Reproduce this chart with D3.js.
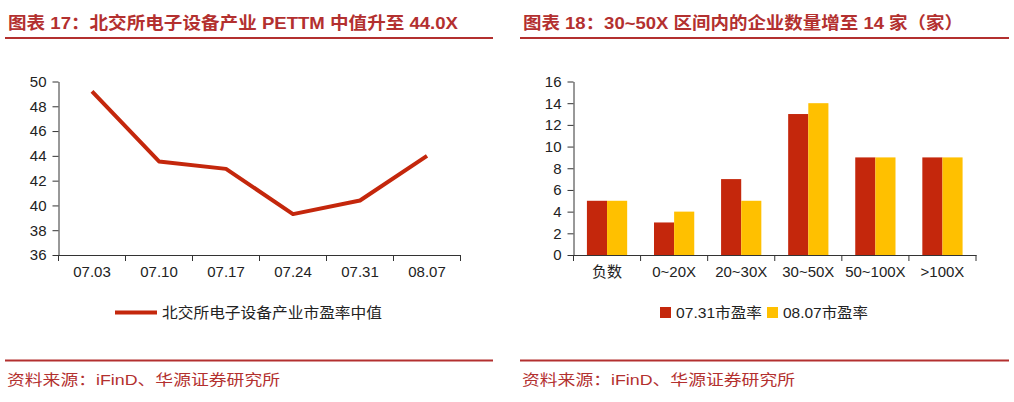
<!DOCTYPE html>
<html><head><meta charset="utf-8">
<script src="https://cdn.jsdelivr.net/npm/d3@7"></script>
<style>
body{margin:0;background:#fff;}
svg{display:block;}
text{font-family:"Liberation Sans","Noto Sans CJK SC",sans-serif;}
</style></head>
<body>
<svg id="c" width="1014" height="402"></svg>
<script>
// ---- data ----
const lineDates = ["07.03","07.10","07.17","07.24","07.31","08.07"];
const lineValues = [49.2, 43.55, 42.95, 39.3, 40.4, 44.0];
const lineName = "北交所电子设备产业市盈率中值";
const lineTicks = [36,38,40,42,44,46,48,50];

const barCats = ["负数","0~20X","20~30X","30~50X","50~100X",">100X"];
const seriesNames = ["07.31市盈率","08.07市盈率"];
const vals0731 = [5,3,7,13,9,9];
const vals0807 = [5,4,5,14,9,9];
const barTicks = [0,2,4,6,8,10,12,14,16];

const title1 = "图表 17：北交所电子设备产业 PETTM 中值升至 44.0X";
const title2 = "图表 18：30~50X 区间内的企业数量增至 14 家（家）";
const sourceText = "资料来源：iFinD、华源证券研究所";

const RED = "#c4270c", YEL = "#ffc000", TRED = "#b3302f", AX = "#333";

const svg = d3.select("#c");

// ---- headers / footers ----
function header(x0, x1, tx, tlen, title){
  svg.append("text").attr("x", tx).attr("y", 29).attr("fill", TRED)
    .attr("font-size", 17).attr("font-weight", "bold")
    .attr("font-family", "'Noto Sans CJK SC','Liberation Sans',sans-serif")
    .attr("textLength", tlen).attr("lengthAdjust", "spacingAndGlyphs").text(title);
  svg.append("line").attr("x1", x0).attr("x2", x1).attr("y1", 38).attr("y2", 38)
    .attr("stroke", TRED).attr("stroke-width", 2);
  svg.append("line").attr("x1", x0).attr("x2", x1).attr("y1", 360.5).attr("y2", 360.5)
    .attr("stroke", TRED).attr("stroke-width", 2);
  svg.append("text").attr("x", x0 + 2).attr("y", 385).attr("fill", TRED)
    .attr("font-size", 15).attr("font-family", "'Noto Sans CJK SC',sans-serif")
    .attr("textLength", 273).attr("lengthAdjust", "spacingAndGlyphs").text(sourceText);
}
header(5, 493, 8, 450, title1);
header(520, 1009, 523, 440, title2);

// ---- left line chart ----
const xL = d3.scaleBand().domain(lineDates).range([58.5, 460.5]).padding(0);
const yL = d3.scaleLinear().domain([36, 50]).range([255, 81.5]);

const gyL = svg.append("g").attr("transform", "translate(58.5,0)")
  .call(d3.axisLeft(yL).tickValues(lineTicks).tickSize(6).tickPadding(6).tickSizeOuter(0));
const gxL = svg.append("g").attr("transform", "translate(0,255)")
  .call(d3.axisBottom(xL).tickSize(0).tickPadding(11).tickSizeOuter(0));
// boundary ticks
svg.append("g").selectAll("line").data(d3.range(lineDates.length + 1)).join("line")
  .attr("x1", i => xL.range()[0] + i * xL.step()).attr("x2", i => xL.range()[0] + i * xL.step())
  .attr("y1", 255).attr("y2", 261).attr("stroke", AX);

svg.append("path").datum(lineValues)
  .attr("fill", "none").attr("stroke", RED).attr("stroke-width", 4).attr("stroke-linejoin", "round")
  .attr("d", d3.line().x((d, i) => xL(lineDates[i]) + xL.bandwidth() / 2).y(d => yL(d)));

// legend left
svg.append("line").attr("x1", 115).attr("x2", 157).attr("y1", 312.5).attr("y2", 312.5)
  .attr("stroke", RED).attr("stroke-width", 4);
svg.append("text").attr("x", 162).attr("y", 318).attr("font-size", 15).attr("fill", "#222")
  .attr("font-family", "'Noto Sans CJK SC',sans-serif")
  .attr("textLength", 220).attr("lengthAdjust", "spacingAndGlyphs").text(lineName);

// ---- right bar chart ----
const xB = d3.scaleBand().domain(barCats).range([573.5, 976]).paddingInner(0.4).paddingOuter(0.2);
const xS = d3.scaleBand().domain(seriesNames).range([0, xB.bandwidth()]);
const yB = d3.scaleLinear().domain([0, 16]).range([255, 81.5]);
const colors = [RED, YEL];
const seriesVals = [vals0731, vals0807];

seriesVals.forEach((vals, s) => {
  svg.append("g").selectAll("rect").data(vals).join("rect")
    .attr("x", (d, i) => xB(barCats[i]) + xS(seriesNames[s]))
    .attr("width", xS.bandwidth())
    .attr("y", d => yB(d))
    .attr("height", d => yB(0) - yB(d))
    .attr("fill", colors[s]);
});

svg.append("g").attr("transform", "translate(573.5,0)")
  .call(d3.axisLeft(yB).tickValues(barTicks).tickSize(6).tickPadding(6).tickSizeOuter(0));
svg.append("g").attr("transform", "translate(0,255)")
  .call(d3.axisBottom(xB).tickSize(0).tickPadding(11).tickSizeOuter(0));
const bStart = xB.range()[0];
svg.append("g").selectAll("line").data(d3.range(barCats.length + 1)).join("line")
  .attr("x1", i => bStart + i * xB.step()).attr("x2", i => bStart + i * xB.step())
  .attr("y1", 255).attr("y2", 261).attr("stroke", AX);

// legend right
const legPos = [{sx: 660, tx: 676, tl: 86}, {sx: 767, tx: 783, tl: 85}];
seriesNames.forEach((n, s) => {
  svg.append("rect").attr("x", legPos[s].sx).attr("y", 307).attr("width", 11).attr("height", 11).attr("fill", colors[s]);
  svg.append("text").attr("x", legPos[s].tx).attr("y", 318).attr("font-size", 15).attr("fill", "#222")
    .attr("textLength", legPos[s].tl).attr("lengthAdjust", "spacingAndGlyphs").text(n);
});

// axis styling
svg.selectAll(".domain").attr("stroke", AX);
svg.selectAll(".tick line").attr("stroke", AX);
svg.selectAll(".tick text").attr("font-size", 15).attr("fill", "#222")
  .attr("font-family", "'Liberation Sans','Noto Sans CJK SC',sans-serif");
</script>
</body></html>
